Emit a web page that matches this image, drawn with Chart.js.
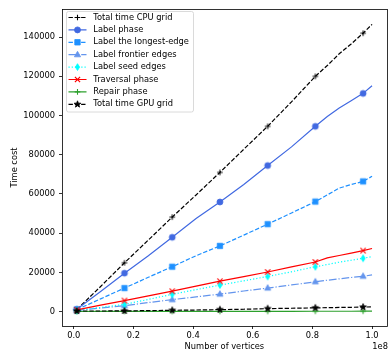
<!DOCTYPE html>
<html><head><meta charset="utf-8">
<script src="https://cdn.jsdelivr.net/npm/chart.js@4.4.1/dist/chart.umd.min.js"></script>
<style>html,body{margin:0;padding:0;background:#fff;overflow:hidden}canvas{display:block}</style>
</head><body>
<canvas id="c" width="391" height="354"></canvas>
<script>
// Data (x in units of 1e8 vertices)
const vertices         = [0.01, 0.09, 0.17, 0.25, 0.33, 0.41, 0.49, 0.57, 0.65, 0.73, 0.81, 0.85, 0.89, 0.93, 0.97, 1.00];
const cpuTotal         = [1000, 12800, 24900, 36500, 48200, 59500, 71000, 82800, 94500, 107000, 120000, 125500, 131500, 136500, 142000, 146500];
const labelPhase       = [1200, 10300, 19600, 28500, 37900, 47500, 55900, 64800, 74500, 84000, 94500, 99500, 103800, 107500, 111300, 115200];
const labelLongestEdge = [1000, 6500, 12000, 17500, 22900, 28500, 33500, 39000, 44600, 50300, 56100, 59500, 63000, 64800, 66400, 69000];
const labelFrontier    = [600, 1800, 3000, 4600, 6100, 7500, 8900, 10500, 12000, 13600, 15200, 16000, 16700, 17400, 18000, 18700];
const labelSeed        = [500, 2100, 3700, 6200, 8800, 11200, 13500, 15700, 17900, 20300, 22900, 24000, 25200, 26200, 27200, 28000];
const traversal        = [900, 3300, 5600, 8000, 10400, 13000, 15500, 17800, 20200, 22800, 25300, 27400, 28600, 29800, 31100, 32200];
const repair           = [50, 60, 80, 90, 100, 110, 120, 130, 140, 150, 170, 170, 180, 180, 190, 200];
const gpuTotal         = [300, 300, 350, 500, 650, 800, 1000, 1200, 1500, 1700, 1900, 2000, 2100, 2200, 2300, 2400];
const markerIndices    = [0, 2, 4, 6, 8, 10, 14];
const xTicks = [0.0, 0.2, 0.4, 0.6, 0.8, 1.0];
const yTicks = [0, 20000, 40000, 60000, 80000, 100000, 120000, 140000];
const seriesNames = ['Total time CPU grid','Label phase','Label the longest-edge','Label frontier edges','Label seed edges','Traversal phase','Repair phase','Total time GPU grid'];

const FONT = 'DejaVu Sans';
const FS = 8.3;
const DASHED = [4.4, 1.9], DASHDOT = [7.7, 1.9, 1.2, 1.9], DOTTED = [1.2, 2.0];

function drawMarker(ctx, type, x, y, color) {
  ctx.save();
  ctx.translate(x, y);
  ctx.fillStyle = color; ctx.strokeStyle = color; ctx.lineWidth = 0.8; ctx.setLineDash([]);
  ctx.beginPath();
  if (type === 'circle') { ctx.arc(0, 0, 3, 0, Math.PI * 2); ctx.fill(); ctx.stroke(); }
  else if (type === 'square') { ctx.rect(-2.7, -2.7, 5.4, 5.4); ctx.fill(); ctx.stroke(); }
  else if (type === 'triangle') { ctx.moveTo(0, -3.4); ctx.lineTo(3.1, 2.1); ctx.lineTo(-3.1, 2.1); ctx.closePath(); ctx.fill(); ctx.stroke(); }
  else if (type === 'thindiamond') { ctx.moveTo(0, -3.4); ctx.lineTo(2.1, 0); ctx.lineTo(0, 3.4); ctx.lineTo(-2.1, 0); ctx.closePath(); ctx.fill(); ctx.stroke(); }
  else if (type === 'x') { ctx.lineWidth = 1.2; ctx.moveTo(-2.6, -2.6); ctx.lineTo(2.6, 2.6); ctx.moveTo(2.6, -2.6); ctx.lineTo(-2.6, 2.6); ctx.stroke(); }
  else if (type === 'plus') { ctx.lineWidth = 1.1; ctx.moveTo(-2.8, 0); ctx.lineTo(2.8, 0); ctx.moveTo(0, -2.8); ctx.lineTo(0, 2.8); ctx.stroke(); }
  else if (type === 'star') {
    for (let i = 0; i < 10; i++) {
      const r = i % 2 === 0 ? 3.5 : 1.45;
      const a = -Math.PI / 2 + i * Math.PI / 5;
      const px = r * Math.cos(a), py = r * Math.sin(a);
      if (i === 0) ctx.moveTo(px, py); else ctx.lineTo(px, py);
    }
    ctx.closePath(); ctx.fill(); ctx.stroke();
  }
  ctx.restore();
}
function markerImage(type, color) {
  const c = document.createElement('canvas'); c.width = 12; c.height = 12;
  drawMarker(c.getContext('2d'), type, 6, 6, color);
  return c;
}

const seriesValues = [cpuTotal, labelPhase, labelLongestEdge, labelFrontier, labelSeed, traversal, repair, gpuTotal];
const styles = [
  {color: '#000000', dash: DASHED, marker: 'plus'},
  {color: '#4169e1', dash: [], marker: 'circle'},
  {color: '#1e90ff', dash: DASHED, marker: 'square'},
  {color: '#6495ed', dash: DASHDOT, marker: 'triangle'},
  {color: '#00ffff', dash: DOTTED, marker: 'thindiamond'},
  {color: '#ff0000', dash: [], marker: 'x'},
  {color: '#2ca02c', dash: [], marker: 'plus'},
  {color: '#000000', dash: DASHED, marker: 'star'}
];

const datasets = seriesValues.map((vals, i) => ({
  label: seriesNames[i],
  data: vals.map((v, j) => ({x: vertices[j], y: v})),
  borderColor: styles[i].color,
  backgroundColor: styles[i].color,
  borderWidth: 1.2,
  borderDash: styles[i].dash,
  pointStyle: markerImage(styles[i].marker, styles[i].color),
  pointRadius: ctx => markerIndices.includes(ctx.dataIndex) ? 3 : 0,
  pointHoverRadius: 0,
  tension: 0,
  fill: false,
  order: seriesValues.length - i
}));

const framePlugin = {
  id: 'frame',
  afterDatasetsDraw(chart) {
    const {ctx, chartArea: a} = chart;
    ctx.save();
    ctx.strokeStyle = '#000'; ctx.lineWidth = 0.8; ctx.setLineDash([]);
    ctx.strokeRect(Math.round(a.left) + 0.5, Math.round(a.top) + 0.5, Math.round(a.right - a.left), Math.round(a.bottom - a.top));
    ctx.restore();
  },
  afterDraw(chart) {
    const ctx = chart.ctx;
    ctx.save();
    ctx.font = FS + 'px "' + FONT + '"';
    ctx.fillStyle = '#000'; ctx.textAlign = 'right'; ctx.textBaseline = 'middle';
    ctx.fillText('1e8', 388, 346.5);
    // legend
    const bx = 66, by = 11.5, bw = 127, bh = 100.5;
    ctx.beginPath();
    if (ctx.roundRect) ctx.roundRect(bx + 0.5, by, bw, bh, 2); else ctx.rect(bx + 0.5, by, bw, bh);
    ctx.fillStyle = 'rgba(255,255,255,0.8)'; ctx.fill();
    ctx.strokeStyle = '#d0d0d0'; ctx.lineWidth = 0.8; ctx.stroke();
    ctx.beginPath(); ctx.rect(bx, by, bw + 0.5, bh); ctx.clip();
    for (let i = 0; i < seriesNames.length; i++) {
      const y = 17.5 + i * 12.4;
      ctx.beginPath();
      ctx.strokeStyle = styles[i].color; ctx.lineWidth = 1.2; ctx.setLineDash(styles[i].dash);
      ctx.moveTo(68.5, y); ctx.lineTo(86.5, y); ctx.stroke();
      ctx.setLineDash([]);
      drawMarker(ctx, styles[i].marker, 77.5, y, styles[i].color);
      ctx.fillStyle = '#000'; ctx.textAlign = 'left'; ctx.textBaseline = 'middle';
      ctx.font = FS + 'px "' + FONT + '"';
      ctx.fillText(seriesNames[i], 93.3, y);
    }
    ctx.restore();
  }
};

new Chart(document.getElementById('c'), {
  type: 'line',
  data: {datasets},
  plugins: [framePlugin],
  options: {
    responsive: false,
    animation: false,
    devicePixelRatio: 1,
    layout: {padding: {top: 7, right: 3, left: 0, bottom: 0}},
    plugins: {legend: {display: false}, tooltip: {enabled: false}},
    scales: {
      x: {
        type: 'linear', min: -0.0395, max: 1.0495,
        afterBuildTicks: s => { s.ticks = xTicks.map(v => ({value: v})); },
        afterFit: s => { s.height = 28; },
        ticks: {color: '#000', font: {family: FONT, size: FS}, padding: 2, maxRotation: 0, autoSkip: false,
          callback: v => Number(v).toFixed(1)},
        grid: {display: true, drawOnChartArea: false, drawTicks: true, tickLength: 3, color: '#000', lineWidth: 0.8},
        border: {display: false},
        title: {display: true, text: 'Number of vertices', color: '#000', font: {family: FONT, size: FS}, padding: {top: 0, bottom: 2.5}}
      },
      y: {
        type: 'linear', min: -7350, max: 154350,
        afterBuildTicks: s => { s.ticks = yTicks.map(v => ({value: v})); },
        afterFit: s => { s.width = 62; },
        ticks: {color: '#000', font: {family: FONT, size: FS}, padding: 4, autoSkip: false,
          callback: v => String(v)},
        grid: {display: true, drawOnChartArea: false, drawTicks: true, tickLength: 3, color: '#000', lineWidth: 0.8},
        border: {display: false},
        title: {display: true, text: 'Time cost', color: '#000', font: {family: FONT, size: FS}, padding: {top: 9.5, bottom: 0}}
      }
    }
  }
});
</script>
</body></html>
